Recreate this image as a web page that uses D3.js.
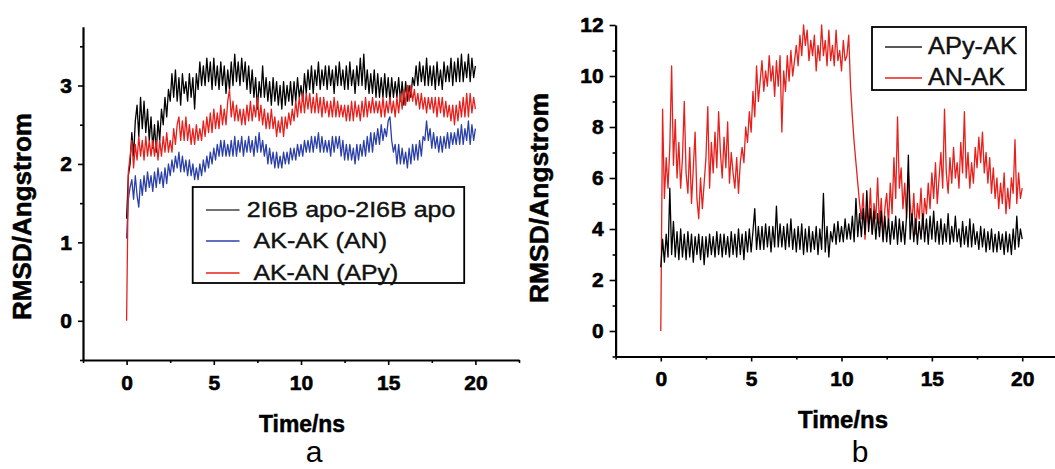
<!DOCTYPE html>
<html><head><meta charset="utf-8">
<script src="https://cdn.jsdelivr.net/npm/d3@7"></script>
<style>
body{margin:0;background:#fff;}
svg{display:block;font-family:"Liberation Sans",Arial,Helvetica,sans-serif;}
</style>
</head><body>
<svg id="chart" width="1055" height="469"></svg>
<script>
// ---------------- DATA ----------------
const timeStepNs = 0.1; // sampling interval of the trajectories (ns)
const xTickValues = [0, 5, 10, 15, 20];
const xMinorTickValues = [-2.5, 2.5, 7.5, 12.5, 17.5, 22.5];
const leftYTickValues = [0, 1, 2, 3];
const leftYMinorTickValues = [-0.5, 0.5, 1.5, 2.5, 3.5];
const rightYTickValues = [0, 2, 4, 6, 8, 10, 12];
const rightYMinorTickValues = [-1, 1, 3, 5, 7, 9, 11];

const leftSeriesNames = ["2I6B apo-2I6B apo", "AK-AK (AN)", "AK-AN (APy)"];
const rightSeriesNames = ["APy-AK", "AN-AK"];
const axisTitleX = "Time/ns";
const axisTitleY = "RMSD/Angstrom";
const panelLabels = ["a", "b"];

// panel a, black: 2I6B apo-2I6B apo
const rmsdApoApo = [
1.30,1.85,2.00,2.40,2.10,2.55,
2.75,2.35,2.85,2.45,2.80,2.40,2.70,2.30,2.60,
2.20,2.50,2.15,2.55,2.30,
2.70,2.50,2.85,2.60,2.95,
2.80,3.15,2.85,3.20,2.80,3.10,2.75,3.15,2.90,3.05,
2.80,3.15,2.85,3.10,2.70,3.15,2.95,3.30,3.00,3.25,
3.00,3.35,3.05,3.30,2.95,3.35,3.00,3.25,2.95,3.30,
3.00,3.25,2.90,3.20,2.95,3.30,3.00,3.40,3.05,3.30,
3.00,3.35,3.05,3.30,2.95,3.25,2.90,3.20,2.85,3.10,
2.70,3.05,2.85,3.25,2.85,3.10,2.80,3.05,2.75,3.10,
2.80,3.05,2.75,3.00,2.70,3.05,2.75,3.00,2.80,3.05,
2.75,3.05,2.80,3.10,2.85,3.00,2.80,3.15,2.90,3.20,
2.95,3.25,2.90,3.20,3.00,3.30,2.95,3.20,3.00,3.25,
2.95,3.25,3.00,3.20,2.90,3.25,3.00,3.30,3.00,3.20,
2.95,3.25,2.95,3.30,3.00,3.20,2.90,3.25,3.00,3.35,
3.00,3.40,2.95,3.20,2.90,3.15,2.90,3.20,2.85,3.15,
2.85,3.10,2.85,3.15,2.85,3.10,2.80,3.10,2.85,3.05,
2.85,3.10,2.80,3.05,2.75,3.05,2.80,3.00,2.85,3.10,
3.00,3.25,3.00,3.30,3.05,3.25,3.00,3.35,3.00,3.25,
3.00,3.25,2.95,3.30,3.00,3.20,2.95,3.30,3.05,3.25,
3.05,3.35,3.00,3.30,3.05,3.35,3.05,3.40,3.05,3.30,
3.10,3.40,3.05,3.35,3.10,3.25];

// panel a, blue: AK-AK (AN)
const rmsdAkAk = [
1.05,1.55,1.70,1.80,1.55,1.85,
1.60,1.45,1.80,1.60,1.85,1.65,1.90,1.70,1.85,
1.65,1.90,1.70,1.95,1.75,
1.90,1.70,1.95,1.75,2.00,
1.85,2.05,1.90,2.10,1.95,2.15,1.90,2.10,1.90,2.05,
1.85,2.05,1.85,2.00,1.80,1.95,1.80,2.00,1.85,2.05,
1.90,2.10,1.95,2.15,2.00,2.20,2.05,2.25,2.10,2.30,
2.10,2.30,2.10,2.25,2.10,2.30,2.10,2.35,2.10,2.30,
2.15,2.35,2.10,2.30,2.15,2.35,2.15,2.30,2.10,2.35,
2.15,2.40,2.15,2.30,2.10,2.25,2.00,2.20,2.00,2.15,
1.95,2.15,1.95,2.10,1.95,2.15,2.00,2.15,2.00,2.20,
2.05,2.20,2.05,2.25,2.10,2.25,2.10,2.30,2.15,2.30,
2.15,2.35,2.15,2.35,2.20,2.40,2.15,2.35,2.15,2.30,
2.15,2.30,2.10,2.35,2.15,2.35,2.20,2.35,2.10,2.30,
2.05,2.25,2.05,2.25,2.05,2.20,2.00,2.25,2.05,2.25,
2.10,2.30,2.10,2.35,2.15,2.40,2.15,2.40,2.25,2.45,
2.25,2.50,2.30,2.45,2.35,2.55,2.60,2.30,2.15,2.25,
2.00,2.25,2.00,2.20,2.00,2.15,1.95,2.20,2.00,2.25,
2.05,2.25,2.05,2.30,2.10,2.35,2.30,2.55,2.30,2.45,
2.20,2.40,2.20,2.35,2.15,2.35,2.15,2.35,2.20,2.40,
2.20,2.40,2.25,2.40,2.25,2.45,2.25,2.50,2.25,2.45,
2.30,2.55,2.25,2.50,2.30,2.45];

// panel a, red: AK-AN (APy)
const rmsdAkAn = [
0.00,1.90,2.10,2.30,1.95,2.25,
2.05,2.35,2.10,2.30,2.05,2.35,2.10,2.30,2.10,
2.30,2.10,2.30,2.05,2.30,
2.10,2.35,2.15,2.40,2.15,
2.30,2.15,2.45,2.25,2.50,2.60,2.30,2.55,2.30,2.60,
2.30,2.50,2.25,2.45,2.25,2.50,2.30,2.45,2.30,2.55,
2.35,2.60,2.40,2.65,2.40,2.70,2.45,2.65,2.45,2.75,
2.50,2.70,2.50,2.80,2.95,2.60,2.80,2.55,2.75,2.55,
2.70,2.50,2.70,2.50,2.75,2.55,2.80,2.55,2.75,2.60,
2.85,2.55,2.75,2.50,2.70,2.45,2.65,2.45,2.70,2.45,
2.60,2.35,2.55,2.40,2.60,2.35,2.60,2.45,2.65,2.50,
2.70,2.55,2.80,2.60,2.85,2.65,2.90,2.65,2.90,2.70,
2.90,2.65,2.85,2.65,2.90,2.65,2.85,2.60,2.85,2.65,
2.80,2.60,2.80,2.60,2.85,2.60,2.80,2.60,2.75,2.60,
2.75,2.55,2.75,2.55,2.80,2.55,2.80,2.60,2.75,2.55,
2.80,2.60,2.85,2.60,2.80,2.65,2.85,2.65,2.80,2.65,
2.80,2.60,2.85,2.60,2.80,2.65,2.85,2.65,2.80,2.60,
2.85,2.65,2.90,2.70,2.95,2.75,3.00,2.80,3.00,2.80,
2.95,2.75,2.90,2.70,2.90,2.70,2.85,2.65,2.85,2.70,
2.85,2.65,2.85,2.60,2.85,2.65,2.85,2.60,2.80,2.60,
2.75,2.55,2.75,2.50,2.75,2.55,2.80,2.60,2.85,2.60,
2.90,2.60,2.90,2.65,2.85,2.70];

// panel b, black: APy-AK
const rmsdApyAk = [
2.5,3.6,2.7,3.8,2.9,5.6,
3.0,4.3,2.9,3.9,2.8,4.0,2.9,3.8,2.8,
3.9,2.9,3.8,2.7,3.7,
3.0,3.8,2.8,3.7,2.6,
3.7,2.9,3.8,3.0,3.7,2.9,3.9,3.0,3.8,2.9,
3.8,3.0,3.7,2.9,3.9,3.0,3.8,2.9,4.0,3.0,
3.8,2.8,3.9,3.1,4.0,3.1,3.9,4.8,3.2,4.1,
3.2,4.1,3.2,4.2,3.3,4.1,3.1,4.1,3.3,4.9,
3.3,4.2,3.3,4.1,3.2,4.2,3.3,4.4,3.2,4.0,
3.1,4.1,3.2,4.2,3.0,4.0,3.1,4.1,3.1,3.9,
3.2,4.1,3.0,4.0,3.2,5.4,3.1,4.1,2.9,3.9,
3.5,4.2,3.4,4.3,3.5,4.1,3.5,4.4,3.6,4.2,
3.6,4.5,3.5,5.2,3.7,4.6,3.7,4.8,3.8,5.5,
3.9,4.8,3.8,4.7,3.6,4.6,3.7,4.7,3.5,4.5,
3.5,4.4,3.4,4.3,3.6,4.5,3.4,4.4,3.5,4.3,
3.4,4.5,6.9,3.6,4.6,3.5,4.4,3.4,4.3,3.6,
4.6,3.5,4.4,3.4,4.5,3.6,4.7,3.5,4.3,3.4,
4.4,3.4,4.2,3.5,4.6,3.4,4.1,3.5,4.5,3.5,
4.0,3.3,4.3,3.4,4.1,3.3,4.4,3.3,4.2,3.4,
3.9,3.2,4.1,3.3,4.0,3.1,3.9,3.2,4.0,3.1,
3.8,3.1,3.9,3.2,3.8,3.0,3.9,3.1,3.8,3.0,
4.0,3.2,4.5,3.3,4.0,3.6];

// panel b, red: AN-AK
const rmsdAnAk = [
0.0,8.7,5.2,6.8,5.6,7.2,
10.4,6.5,8.3,6.0,7.4,5.6,6.8,9.0,6.2,
5.4,7.2,5.0,6.4,7.8,
5.2,4.4,6.0,4.8,5.8,
6.8,8.8,5.6,7.4,6.2,7.8,6.4,8.6,7.0,6.0,
7.6,6.4,8.2,5.8,7.0,6.2,5.6,6.8,5.4,6.6,
7.2,6.6,8.0,7.4,8.6,7.8,9.4,8.4,10.4,9.0,
9.8,10.6,9.4,10.2,9.6,10.8,9.8,10.4,9.2,10.6,
9.6,10.8,7.8,10.2,9.4,10.8,9.8,11.0,10.0,10.6,
11.2,10.4,11.6,10.8,12.0,11.2,11.8,10.6,11.4,10.8,
11.6,10.2,11.2,10.6,12.0,10.8,11.4,10.4,11.8,10.6,
11.2,10.4,11.8,10.6,11.0,10.2,11.4,10.6,10.8,11.6,
9.6,8.4,7.4,6.6,5.8,5.0,4.4,5.4,3.6,4.8,
4.2,5.6,3.8,5.0,4.4,6.0,4.2,5.2,3.6,4.8,
5.4,4.2,5.8,4.6,6.8,5.2,8.4,5.6,6.4,4.8,
5.8,4.4,6.2,5.0,4.2,5.4,3.8,5.0,4.4,5.6,
4.0,5.2,4.6,5.8,4.8,6.2,5.2,6.6,5.0,6.0,
7.0,5.6,8.7,6.2,5.4,6.8,5.8,7.2,6.0,6.6,
5.6,7.4,6.2,8.6,6.0,7.0,5.6,6.6,5.8,7.2,
6.4,7.6,6.6,7.8,6.2,7.0,5.8,6.8,5.4,6.4,
5.2,6.0,4.8,5.8,5.0,6.2,4.6,5.6,4.8,6.0,
5.4,7.5,5.0,6.2,5.2,5.6];

// ---------------- DRAWING ----------------
const svg = d3.select("#chart");
svg.append("rect").attr("width", 1055).attr("height", 469).attr("fill", "#fff");

const BLACK = "#000000", BLUE = "#2b40a8", RED = "#e6201c";

function drawPanel(cfg) {
  const x = d3.scaleLinear().domain([-2.5, 22.5]).range(cfg.xRange);
  const y = d3.scaleLinear().domain(cfg.yDomain).range(cfg.yRange);
  const g = svg.append("g");

  const line = d3.line().x((d, i) => x(i * timeStepNs)).y(d => y(d));
  cfg.series.forEach(s => {
    g.append("path").datum(s.values)
      .attr("d", line).attr("fill", "none")
      .attr("stroke", s.color).attr("stroke-width", 1.3)
      .attr("stroke-linejoin", "round");
  });

  const xAxisY = cfg.yRange[0];
  const yAxisX = cfg.xRange[0];

  g.append("g").attr("transform", `translate(0,${xAxisY})`)
    .call(d3.axisBottom(x).tickValues(xTickValues).tickSize(5).tickPadding(10)
      .tickSizeOuter(0).tickFormat(d3.format("d")));
  g.append("g").attr("transform", `translate(0,${xAxisY})`)
    .call(d3.axisBottom(x).tickValues(xMinorTickValues).tickSize(3)
      .tickSizeOuter(0).tickFormat(""))
    .call(a => a.select(".domain").remove());

  g.append("g").attr("transform", `translate(${yAxisX},0)`)
    .call(d3.axisLeft(y).tickValues(cfg.yTicks).tickSize(cfg.yTickSize).tickPadding(6)
      .tickSizeOuter(0).tickFormat(d3.format("d")));
  g.append("g").attr("transform", `translate(${yAxisX},0)`)
    .call(d3.axisLeft(y).tickValues(cfg.yMinorTicks).tickSize(3)
      .tickSizeOuter(0).tickFormat(""))
    .call(a => a.select(".domain").remove());

  g.selectAll(".domain").attr("stroke", "#000").attr("stroke-width", 2.2);
  g.selectAll(".tick line").attr("stroke", "#000").attr("stroke-width", 1.6);
  g.selectAll(".tick text").attr("fill", "#000")
    .attr("stroke", "#000").attr("stroke-width", 0.6)
    .style("font-size", "21px").style("font-weight", "bold")
    .style("font-family", '"Liberation Sans", Arial, sans-serif');

  g.append("text").text(axisTitleX)
    .attr("x", cfg.xTitle[0]).attr("y", cfg.xTitle[1])
    .attr("text-anchor", "middle")
    .attr("textLength", cfg.xTitle[2]).attr("lengthAdjust", "spacingAndGlyphs")
    .attr("stroke", "#000").attr("stroke-width", 0.5)
    .style("font-size", "23px").style("font-weight", "bold");
  g.append("text").text(axisTitleY)
    .attr("transform", `translate(${cfg.yTitle[0]},${cfg.yTitle[1]}) rotate(-90)`)
    .attr("text-anchor", "middle")
    .attr("textLength", cfg.yTitle[2]).attr("lengthAdjust", "spacingAndGlyphs")
    .attr("stroke", "#000").attr("stroke-width", 0.5)
    .style("font-size", "25px").style("font-weight", "bold");

  g.append("text").text(cfg.label)
    .attr("x", cfg.labelPos[0]).attr("y", cfg.labelPos[1])
    .attr("text-anchor", "middle")
    .style("font-size", "30px");

  const L = cfg.legend;
  g.append("rect").attr("x", L.box[0]).attr("y", L.box[1])
    .attr("width", L.box[2]).attr("height", L.box[3])
    .attr("fill", "#fff").attr("stroke", "#000").attr("stroke-width", 1.8);
  L.items.forEach((it, i) => {
    const ly = L.rowY[i];
    g.append("line").attr("x1", L.lineX[0]).attr("x2", L.lineX[1])
      .attr("y1", ly).attr("y2", ly)
      .attr("stroke", it.color).attr("stroke-width", 1.5);
    g.append("text").text(it.name)
      .attr("x", it.textX).attr("y", ly + L.baselineOffset)
      .attr("textLength", it.width).attr("lengthAdjust", "spacingAndGlyphs")
      .attr("fill", "#111").attr("stroke", "#111").attr("stroke-width", 0.4)
      .style("font-size", L.fontSize + "px");
  });
}

drawPanel({
  xRange: [83, 519],
  yDomain: [-0.5, 3.75], yRange: [360, 26.7],
  yTicks: leftYTickValues, yMinorTicks: leftYMinorTickValues, yTickSize: 5,
  series: [
    { values: rmsdApoApo, color: BLACK },
    { values: rmsdAkAk, color: BLUE },
    { values: rmsdAkAn, color: RED }
  ],
  xTitle: [302, 432, 86],
  yTitle: [31, 216.5, 207],
  label: panelLabels[0], labelPos: [314, 462],
  legend: {
    box: [192.7, 187, 271.5, 96],
    lineX: [206, 239.5],
    rowY: [210, 241, 273],
    baselineOffset: 7,
    fontSize: 22,
    items: [
      { name: leftSeriesNames[0], color: "#444", textX: 246.8, width: 208.6 },
      { name: leftSeriesNames[1], color: BLUE, textX: 253.5, width: 133.5 },
      { name: leftSeriesNames[2], color: RED, textX: 253.5, width: 144.7 }
    ]
  }
});

drawPanel({
  xRange: [615.6, 1067.4],
  yDomain: [-1, 12], yRange: [356.5, 25],
  yTicks: rightYTickValues, yMinorTicks: rightYMinorTickValues, yTickSize: 6,
  series: [
    { values: rmsdAnAk, color: RED },
    { values: rmsdApyAk, color: BLACK }
  ],
  xTitle: [843, 428, 90],
  yTitle: [548, 198, 210],
  label: panelLabels[1], labelPos: [860, 462],
  legend: {
    box: [872, 27, 154, 63],
    lineX: [885, 922],
    rowY: [47, 78],
    baselineOffset: 6.5,
    fontSize: 24,
    items: [
      { name: rightSeriesNames[0], color: "#222", textX: 928, width: 89 },
      { name: rightSeriesNames[1], color: RED, textX: 928, width: 77 }
    ]
  }
});
</script>
</body></html>
